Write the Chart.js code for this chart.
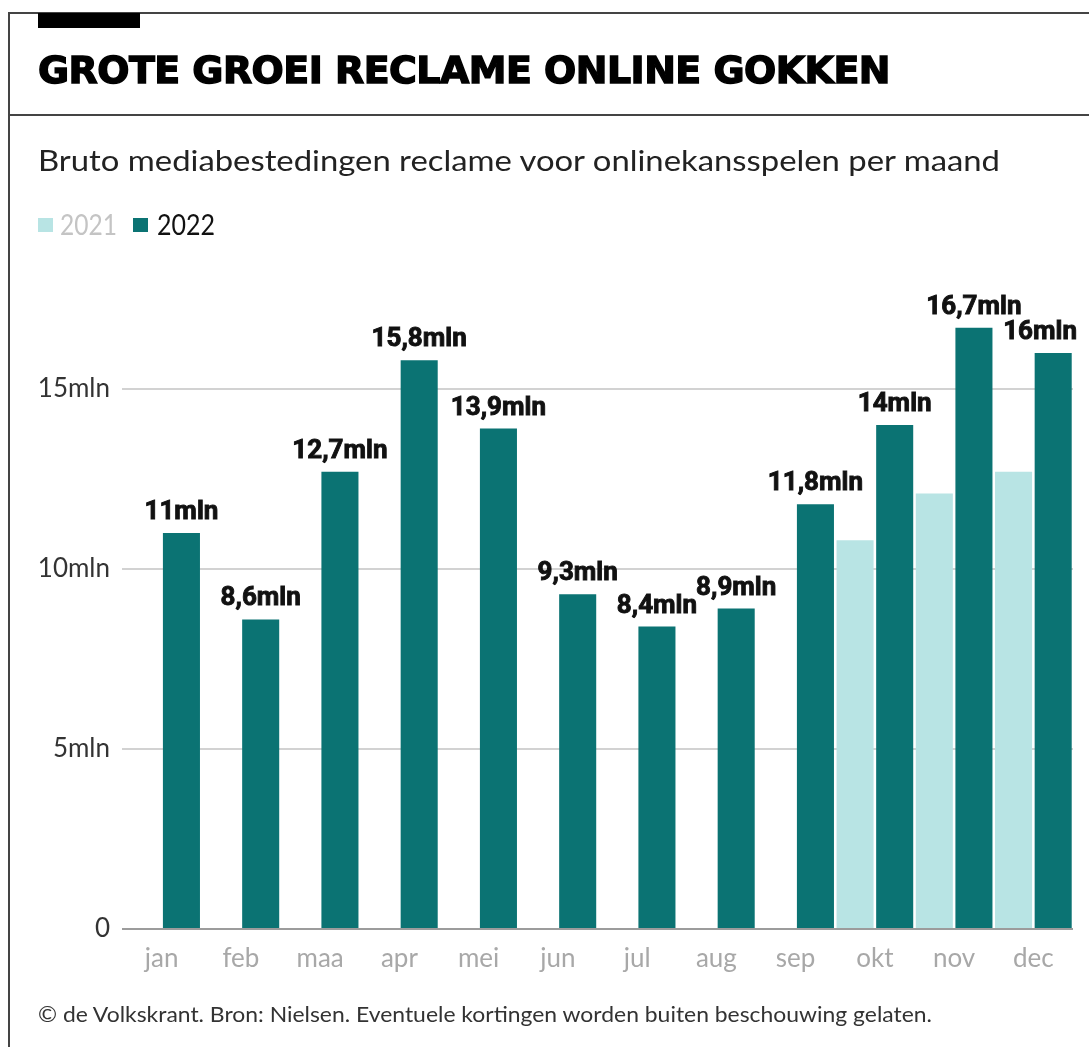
<!DOCTYPE html>
<html>
<head>
<meta charset="utf-8">
<title>Grote groei reclame online gokken</title>
<script src="https://cdn.jsdelivr.net/npm/chart.js@4.4.0/dist/chart.umd.min.js"></script>
<style>
    html, body { margin: 0; padding: 0; background: #fff; }
    #page { position: relative; width: 1089px; height: 1047px; overflow: hidden; }
    #chart { position: absolute; left: 0; top: 0; }
    .frame-top { position: absolute; left: 8px; top: 12px; width: 1081px; height: 0; border-top: 2px solid #444; }
    .frame-left { position: absolute; left: 8px; top: 12px; width: 0; height: 1035px; border-left: 2px solid #444; }
    .frame-sep { position: absolute; left: 8px; top: 114px; width: 1081px; height: 0; border-top: 2px solid #444; }
    .tag { position: absolute; left: 38px; top: 13px; width: 102px; height: 15px; background: #000; }
    .txt { position: absolute; white-space: nowrap; transform-origin: 0 0; line-height: 1; }
    #title { left: 38px; top: 49px; font: bold 37px "DejaVu Sans", sans-serif; color: #000; -webkit-text-stroke: 1.4px #000; letter-spacing: -0.5px; }
    #subtitle { left: 38px; top: 142px; font: 29px Lato, sans-serif; color: #222; }
    #footer { left: 38px; top: 1000px; font: 22px Lato, sans-serif; color: #333; }
    .legend-box { position: absolute; top: 218px; width: 15px; height: 14px; }
    .legend-txt { top: 207px; font: 28px Lato, sans-serif; }
</style>
</head>
<body>
<div id="page">
    <canvas id="chart" width="1089" height="1047"></canvas>
    <div class="frame-top"></div>
    <div class="frame-left"></div>
    <div class="frame-sep"></div>
    <div class="tag"></div>
    <div class="txt" id="title" data-w="852">GROTE GROEI RECLAME ONLINE GOKKEN</div>
    <div class="txt" id="subtitle" data-w="962">Bruto mediabestedingen reclame voor onlinekansspelen per maand</div>
    <div class="legend-box" id="lb2021" style="left:38px"></div>
    <div class="txt legend-txt" id="lt2021" style="left:60px" data-w="57"></div>
    <div class="legend-box" id="lb2022" style="left:133px"></div>
    <div class="txt legend-txt" id="lt2022" style="left:157px" data-w="58"></div>
    <div class="txt" id="footer" data-w="894">© de Volkskrant. Bron: Nielsen. Eventuele kortingen worden buiten beschouwing gelaten.</div>
</div>
<script>
// ---- data ----
const months = ['jan', 'feb', 'maa', 'apr', 'mei', 'jun', 'jul', 'aug', 'sep', 'okt', 'nov', 'dec'];
const seriesNames = ['2021', '2022'];
const values2021 = [null, null, null, null, null, null, null, null, null, 10.8, 12.1, 12.7];
const values2022 = [11, 8.6, 12.7, 15.8, 13.9, 9.3, 8.4, 8.9, 11.8, 14, 16.7, 16];
const yTicks = [0, 5, 10, 15];

const colorLight = '#b8e4e4';
const colorDark = '#0b7373';

// legend (html)
document.getElementById('lb2021').style.background = colorLight;
document.getElementById('lb2022').style.background = colorDark;
const lt2021 = document.getElementById('lt2021');
lt2021.textContent = seriesNames[0];
lt2021.style.color = '#c4c4c4';
const lt2022 = document.getElementById('lt2022');
lt2022.textContent = seriesNames[1];
lt2022.style.color = '#111';

// squeeze / stretch text blocks to the measured width of the original
document.querySelectorAll('[data-w]').forEach(el => {
    const w = el.getBoundingClientRect().width;
    const target = parseFloat(el.dataset.w);
    if (w > 0) el.style.transform = 'scaleX(' + (target / w) + ')';
});

function fmtMln(v) {
    return String(v).replace('.', ',') + 'mln';
}

// value labels above the 2022 bars
const barLabels = {
    id: 'barLabels',
    afterDatasetsDraw(chart) {
        const ctx = chart.ctx;
        const meta = chart.getDatasetMeta(1);
        ctx.save();
        ctx.font = 'bold 26px Roboto, sans-serif';
        ctx.fillStyle = '#111';
        ctx.strokeStyle = '#111';
        ctx.lineWidth = 0.9;
        ctx.textBaseline = 'alphabetic';
        ctx.textAlign = 'left';
        meta.data.forEach((bar, i) => {
            const v = values2022[i];
            if (v == null) return;
            const text = fmtMln(v);
            const w = ctx.measureText(text).width;
            let x = bar.x - w / 2;
            if (x + w > chart.width - 12) x = chart.width - 12 - w;
            ctx.fillText(text, x, bar.y - 14);
            ctx.strokeText(text, x, bar.y - 14);
        });
        ctx.restore();
    }
};

const chart = new Chart(document.getElementById('chart'), {
    type: 'bar',
    data: {
        labels: months,
        datasets: [{
            label: seriesNames[0],
            data: values2021,
            backgroundColor: colorLight,
            categoryPercentage: 1,
            barPercentage: 0.935
        }, {
            label: seriesNames[1],
            data: values2022,
            backgroundColor: colorDark,
            categoryPercentage: 1,
            barPercentage: 0.935
        }]
    },
    options: {
        responsive: false,
        animation: false,
        devicePixelRatio: 1,
        layout: {
            padding: { left: 30, right: 16, top: 281, bottom: 68 }
        },
        plugins: {
            legend: { display: false },
            tooltip: { enabled: false }
        },
        scales: {
            x: {
                grid: { display: false },
                border: { display: false },
                ticks: {
                    color: '#a8a8a8',
                    font: { family: 'Lato', size: 26 },
                    padding: 6,
                    maxRotation: 0
                },
                afterFit(scale) { scale.height = 50; }
            },
            y: {
                min: 0,
                max: 18,
                afterBuildTicks(scale) {
                    scale.ticks = yTicks.map(v => ({ value: v }));
                },
                ticks: {
                    color: '#333',
                    font: { family: 'Lato', size: 26 },
                    padding: 12,
                    callback: v => v === 0 ? '0' : v + 'mln'
                },
                grid: {
                    drawTicks: false,
                    color: c => c.tick && c.tick.value === 0 ? '#9c9c9c' : '#d2d2d2',
                    lineWidth: 2
                },
                border: { display: false },
                afterFit(scale) { scale.width = 92; }
            }
        }
    },
    plugins: [barLabels]
});
</script>
</body>
</html>
